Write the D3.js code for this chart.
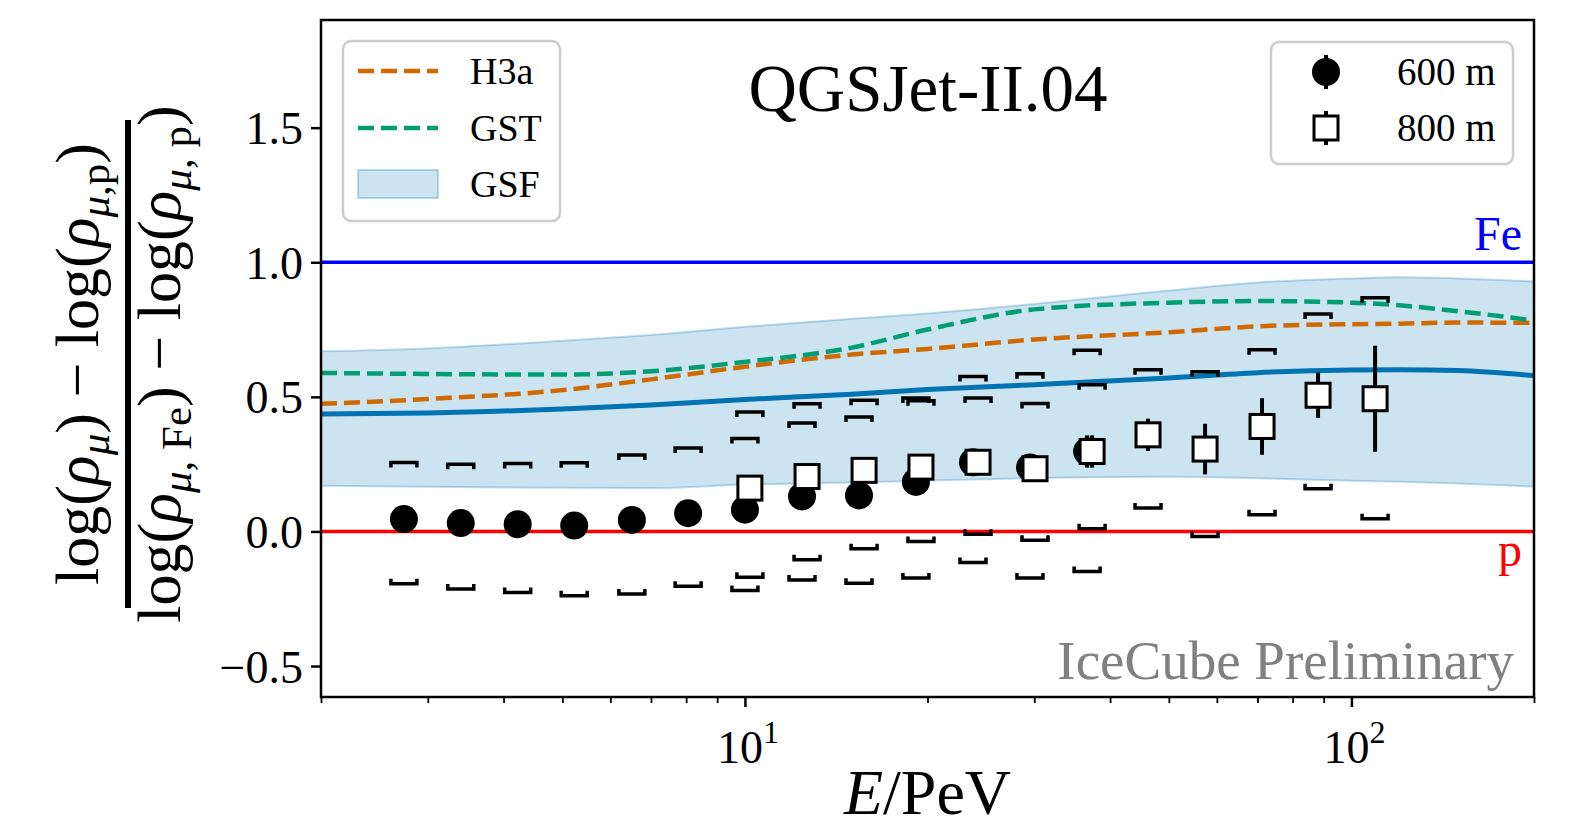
<!DOCTYPE html>
<html>
<head>
<meta charset="utf-8">
<script src="https://cdn.jsdelivr.net/npm/d3@7"></script>
<style>
  body { margin: 0; background: #fff; }
  svg { display: block; font-family: "Liberation Serif", "DejaVu Serif", serif; }
</style>
</head>
<body>
<div id="chart"></div>
<script>
// 600 m points (filled circles)
const energy600 = [2.74, 3.40, 4.22, 5.23, 6.51, 8.06, 10.0, 12.42, 15.42, 19.14, 23.77, 29.51, 36.66];
const ratio600 = [0.046, 0.031, 0.027, 0.022, 0.043, 0.068, 0.081, 0.130, 0.134, 0.184, 0.257, 0.238, 0.297];
const stat600 = [0.005, 0.005, 0.005, 0.006, 0.007, 0.008, 0.010, 0.012, 0.015, 0.020, 0.030, 0.040, 0.060];
const sysUp600 = [0.256, 0.250, 0.252, 0.255, 0.284, 0.310, 0.345, 0.403, 0.425, 0.496, 0.576, 0.586, 0.673];
const sysLow600 = [-0.194, -0.214, -0.227, -0.239, -0.232, -0.204, -0.219, -0.180, -0.192, -0.173, -0.115, -0.173, -0.149];

// 800 m points (open squares)
const energy800 = [10.19, 12.66, 15.72, 19.51, 24.23, 30.08, 37.36, 46.20, 57.37, 71.22, 88.10, 109.4];
const ratio800 = [0.161, 0.204, 0.227, 0.239, 0.257, 0.233, 0.297, 0.359, 0.306, 0.390, 0.506, 0.493];
const stat800 = [0.010, 0.012, 0.015, 0.020, 0.025, 0.035, 0.060, 0.060, 0.094, 0.105, 0.084, 0.197];
const sysUp800 = [0.444, 0.474, 0.487, 0.486, 0.496, 0.475, 0.545, 0.601, 0.593, 0.675, 0.808, 0.868];
const sysLow800 = [-0.170, -0.105, -0.064, -0.037, -0.010, -0.033, 0.010, 0.087, -0.019, 0.062, 0.159, 0.047];

// model predictions
const modelE = [2, 3, 5, 7, 10, 15, 20, 30, 50, 70, 100, 120, 150, 200];
const gsfMid = [0.436, 0.440, 0.455, 0.470, 0.490, 0.510, 0.527, 0.545, 0.570, 0.590, 0.600, 0.601, 0.598, 0.579];
const gsfHigh = [0.669, 0.680, 0.708, 0.730, 0.760, 0.790, 0.810, 0.845, 0.895, 0.925, 0.940, 0.944, 0.940, 0.929];
const gsfLow = [0.170, 0.166, 0.162, 0.161, 0.174, 0.182, 0.189, 0.198, 0.203, 0.198, 0.188, 0.185, 0.178, 0.167];
const h3a = [0.474, 0.492, 0.525, 0.565, 0.612, 0.657, 0.678, 0.713, 0.740, 0.762, 0.770, 0.772, 0.776, 0.775];
const gst = [0.589, 0.585, 0.583, 0.595, 0.630, 0.683, 0.750, 0.825, 0.850, 0.856, 0.850, 0.840, 0.818, 0.784];

const yTicks = [-0.5, 0.0, 0.5, 1.0, 1.5];

//chart dimensions
const W = 1569, H = 827;
const margin = {top: 20, right: 35, bottom: 130, left: 321};
const width = W - margin.left - margin.right;
const height = H - margin.top - margin.bottom;

const svg = d3.select("#chart").append("svg")
  .attr("width", W)
  .attr("height", H);

const g = svg.append("g")
  .attr("transform", "translate(" + margin.left + "," + margin.top + ")");

const x = d3.scaleLog().domain([2, 200]).range([0, width]);
const y = d3.scaleLinear().domain([-0.615, 1.9]).range([height, 0]);

const orange = "#d06a00", green = "#029e73", blue = "#0173b2";
const dash = "16,7";

// GSF band
const band = modelE.map((e, i) => ({e: e, lo: gsfLow[i], hi: gsfHigh[i]}));
g.append("path")
  .datum(band)
  .attr("d", d3.area().curve(d3.curveMonotoneX)
    .x(d => x(d.e)).y0(d => y(d.lo)).y1(d => y(d.hi)))
  .attr("fill", blue).attr("fill-opacity", 0.2)
  .attr("stroke", blue).attr("stroke-opacity", 0.25).attr("stroke-width", 2);

const line = d3.line().curve(d3.curveMonotoneX).x(d => x(d[0])).y(d => y(d[1]));

// Fe / p reference lines
g.append("line").attr("x1", 0).attr("x2", width).attr("y1", y(1)).attr("y2", y(1))
  .attr("stroke", "#0000ff").attr("stroke-width", 3.5);
g.append("line").attr("x1", 0).attr("x2", width).attr("y1", y(0)).attr("y2", y(0))
  .attr("stroke", "#ff0000").attr("stroke-width", 3.5);

g.append("path").datum(modelE.map((e, i) => [e, gsfMid[i]]))
  .attr("d", line).attr("fill", "none").attr("stroke", blue).attr("stroke-width", 5);
g.append("path").datum(modelE.map((e, i) => [e, h3a[i]]))
  .attr("d", line).attr("fill", "none").attr("stroke", orange).attr("stroke-width", 4.5)
  .attr("stroke-dasharray", dash);
g.append("path").datum(modelE.map((e, i) => [e, gst[i]]))
  .attr("d", line).attr("fill", "none").attr("stroke", green).attr("stroke-width", 4.5)
  .attr("stroke-dasharray", dash);

g.append("text").attr("x", width - 12).attr("y", y(1) - 12)
  .attr("text-anchor", "end").style("font-size", "48px").style("fill", "#0000ff").text("Fe");
g.append("text").attr("x", width - 12).attr("y", y(0) + 35)
  .attr("text-anchor", "end").style("font-size", "48px").style("fill", "#ff0000").text("p");

// systematic brackets
function brackets(es, vals, dir) {
  g.selectAll(null).data(es.map((e, i) => [e, vals[i]])).enter().append("path")
    .attr("d", d => {
      const cx = x(d[0]), cy = y(d[1]), t = dir * 5;
      return "M" + (cx - 13) + "," + (cy + t) + "L" + (cx - 13) + "," + cy +
             "L" + (cx + 13) + "," + cy + "L" + (cx + 13) + "," + (cy + t);
    })
    .attr("fill", "none").attr("stroke", "#000").attr("stroke-width", 3.5);
}
brackets(energy600, sysUp600, 1);
brackets(energy600, sysLow600, -1);
brackets(energy800, sysUp800, 1);
brackets(energy800, sysLow800, -1);

// 600 m points
g.selectAll(".err600").data(energy600).enter().append("line")
  .attr("x1", d => x(d)).attr("x2", d => x(d))
  .attr("y1", (d, i) => y(ratio600[i] + stat600[i]))
  .attr("y2", (d, i) => y(ratio600[i] - stat600[i]))
  .attr("stroke", "#000").attr("stroke-width", 4);
g.selectAll(".pt600").data(energy600).enter().append("circle")
  .attr("cx", d => x(d)).attr("cy", (d, i) => y(ratio600[i]))
  .attr("r", 14).attr("fill", "#000");

// 800 m points
g.selectAll(".err800").data(energy800).enter().append("line")
  .attr("x1", d => x(d)).attr("x2", d => x(d))
  .attr("y1", (d, i) => y(ratio800[i] + stat800[i]))
  .attr("y2", (d, i) => y(ratio800[i] - stat800[i]))
  .attr("stroke", "#000").attr("stroke-width", 4);
g.selectAll(".pt800").data(energy800).enter().append("rect")
  .attr("x", d => x(d) - 12).attr("y", (d, i) => y(ratio800[i]) - 12)
  .attr("width", 24).attr("height", 24)
  .attr("fill", "#fff").attr("stroke", "#000").attr("stroke-width", 3);

// axes
const yAxis = d3.axisLeft(y).tickValues(yTicks).tickSize(10).tickPadding(8)
  .tickFormat(d => d < 0 ? "\u2212" + Math.abs(d).toFixed(1) : d.toFixed(1));
g.append("g").call(yAxis)
  .call(a => a.select(".domain").remove())
  .call(a => a.selectAll("line").attr("stroke-width", 2.5))
  .call(a => a.selectAll("text").style("font-size", "46px")
    .style("font-family", "Liberation Serif, serif").attr("dy", "0.35em"));

const minor = [];
[1, 10, 100].forEach(dec => {
  for (let k = 2; k <= 9; k++) { const v = dec * k; if (v >= 2 && v <= 200) minor.push(v); }
});
g.append("g").attr("transform", "translate(0," + height + ")")
  .call(d3.axisBottom(x).tickValues(minor).tickSize(6).tickFormat(""))
  .call(a => a.select(".domain").remove())
  .call(a => a.selectAll("line").attr("stroke-width", 1.8));
g.append("g").attr("transform", "translate(0," + height + ")")
  .call(d3.axisBottom(x).tickValues([10, 100]).tickSize(10).tickFormat(""))
  .call(a => a.select(".domain").remove())
  .call(a => a.selectAll("line").attr("stroke-width", 2.5));

[[10, "1"], [100, "2"]].forEach(p => {
  const t = g.append("text").attr("x", x(p[0]) + 3).attr("y", height + 66)
    .attr("text-anchor", "middle").style("font-size", "46px");
  t.append("tspan").text("10");
  t.append("tspan").attr("dy", -20).style("font-size", "32px").text(p[1]);
});

// frame
g.append("rect").attr("width", width).attr("height", height)
  .attr("fill", "none").attr("stroke", "#000").attr("stroke-width", 2.5);

// x label
const xl = svg.append("text").attr("x", margin.left + width / 2).attr("y", 814)
  .attr("text-anchor", "middle").style("font-size", "64px");
xl.append("tspan").style("font-style", "italic").text("E");
xl.append("tspan").text("/PeV");

// y label (fraction)
function subText(sel, parts) {
  parts.forEach(p => {
    const ts = sel.append("tspan").text(p.t);
    if (p.i) ts.style("font-style", "italic");
    if (p.s) ts.style("font-size", "43px");
    if (p.dy) ts.attr("dy", p.dy);
  });
}
const yl = svg.append("g").attr("transform", "translate(0,364) rotate(-90)");
const num = yl.append("text").attr("x", 0).attr("y", 98).attr("text-anchor", "middle")
  .style("font-size", "62px");
subText(num, [
  {t: "log("}, {t: "\u03c1", i: 1}, {t: "\u03bc", i: 1, s: 1, dy: 11}, {t: ")", dy: -11},
  {t: " \u2212 log("}, {t: "\u03c1", i: 1}, {t: "\u03bc", i: 1, s: 1, dy: 11}, {t: ",p", s: 1},
  {t: ")", dy: -11}
]);
yl.append("rect").attr("x", -244).attr("y", 125).attr("width", 488).attr("height", 6).attr("fill", "#000");
const den = yl.append("text").attr("x", 0).attr("y", 180).attr("text-anchor", "middle")
  .style("font-size", "62px");
subText(den, [
  {t: "log("}, {t: "\u03c1", i: 1}, {t: "\u03bc", i: 1, s: 1, dy: 11}, {t: ", Fe", s: 1},
  {t: ")", dy: -11},
  {t: " \u2212 log("}, {t: "\u03c1", i: 1}, {t: "\u03bc", i: 1, s: 1, dy: 11}, {t: ", p", s: 1},
  {t: ")", dy: -11}
]);

// title + watermark
svg.append("text").attr("x", 928).attr("y", 111).attr("text-anchor", "middle")
  .style("font-size", "67px").text("QGSJet-II.04");
svg.append("text").attr("x", 1514).attr("y", 679).attr("text-anchor", "end")
  .style("font-size", "55px").style("fill", "#808080").text("IceCube Preliminary");

// left legend
const lg = svg.append("g").attr("transform", "translate(343,41)");
lg.append("rect").attr("width", 217).attr("height", 180).attr("rx", 8)
  .attr("fill", "#fff").attr("fill-opacity", 0.8).attr("stroke", "#cccccc").attr("stroke-width", 2.5);
const legLines = [["H3a", orange], ["GST", green]];
legLines.forEach((d, i) => {
  const ly = 30 + i * 57;
  lg.append("line").attr("x1", 15).attr("x2", 95).attr("y1", ly).attr("y2", ly)
    .attr("stroke", d[1]).attr("stroke-width", 4.5).attr("stroke-dasharray", dash);
  lg.append("text").attr("x", 127).attr("y", ly + 13).style("font-size", "38px").text(d[0]);
});
lg.append("rect").attr("x", 15).attr("y", 129).attr("width", 80).attr("height", 28)
  .attr("fill", blue).attr("fill-opacity", 0.2).attr("stroke", blue).attr("stroke-opacity", 0.25)
  .attr("stroke-width", 2);
lg.append("text").attr("x", 127).attr("y", 156).style("font-size", "38px").text("GSF");

// right legend
const rg = svg.append("g").attr("transform", "translate(1271,42)");
rg.append("rect").attr("width", 242).attr("height", 122).attr("rx", 8)
  .attr("fill", "#fff").attr("fill-opacity", 0.8).attr("stroke", "#cccccc").attr("stroke-width", 2.5);
rg.append("line").attr("x1", 55).attr("x2", 55).attr("y1", 13).attr("y2", 47)
  .attr("stroke", "#000").attr("stroke-width", 4);
rg.append("circle").attr("cx", 55).attr("cy", 30).attr("r", 14).attr("fill", "#000");
rg.append("line").attr("x1", 55).attr("x2", 55).attr("y1", 69).attr("y2", 103)
  .attr("stroke", "#000").attr("stroke-width", 4);
rg.append("rect").attr("x", 43).attr("y", 74).attr("width", 24).attr("height", 24)
  .attr("fill", "#fff").attr("stroke", "#000").attr("stroke-width", 3);
rg.append("text").attr("x", 126).attr("y", 43).style("font-size", "39px").text("600 m");
rg.append("text").attr("x", 126).attr("y", 99).style("font-size", "39px").text("800 m");
</script>
</body>
</html>
